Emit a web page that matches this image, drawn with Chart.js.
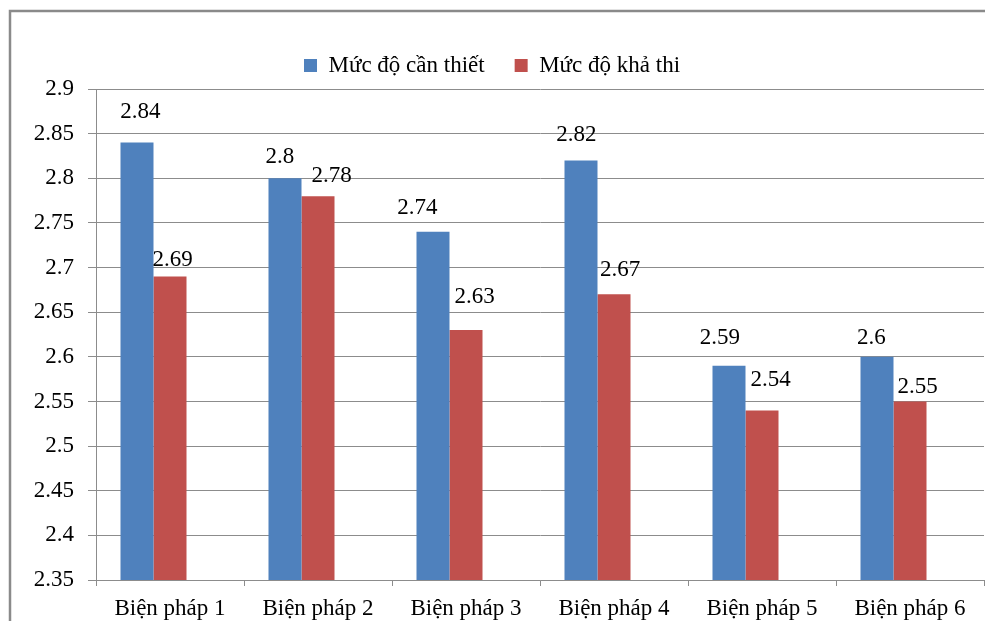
<!DOCTYPE html>
<html>
<head>
<meta charset="utf-8">
<title>Biện pháp</title>
<script src="https://cdn.jsdelivr.net/npm/chart.js@4"></script>
<style>
  html, body { margin: 0; padding: 0; background: #ffffff; }
  #wrap { position: relative; width: 985px; height: 621px; }
</style>
</head>
<body>
<div id="wrap"><canvas id="chart" width="985" height="621"></canvas></div>
<script>
// Categories and series values
const categories = ['Biện pháp 1', 'Biện pháp 2', 'Biện pháp 3', 'Biện pháp 4', 'Biện pháp 5', 'Biện pháp 6'];
const canThiet = [2.84, 2.8, 2.74, 2.82, 2.59, 2.6];
const khaThi = [2.69, 2.78, 2.63, 2.67, 2.54, 2.55];
// Third, empty series slot (keeps the pair of bars left of each category centre)
const spacer = [null, null, null, null, null, null];
const seriesNames = ['Mức độ cần thiết', 'Mức độ khả thi'];
const yMin = 2.35, yMax = 2.9, yStep = 0.05;

const FONT = '"Liberation Serif", "Times New Roman", Times, serif';
const FONT_SIZE = 23;
const GRID = '#8c8c8c';

// Outer frame of the chart
const framePlugin = {
  id: 'frame',
  beforeDraw(chart) {
    const ctx = chart.ctx;
    ctx.save();
    ctx.fillStyle = '#ffffff';
    ctx.fillRect(0, 0, chart.width, chart.height);
    ctx.strokeStyle = '#8a8a8a';
    ctx.lineWidth = 2.5;
    ctx.strokeRect(10, 11, chart.width + 20, chart.height + 20);
    ctx.restore();
  }
};

// Fixed legend band height so the plot starts at a set place
const legendBandPlugin = {
  id: 'legendBand',
  afterInit(chart) {
    const lg = chart.legend;
    if (!lg) return;
    const fit = lg.fit;
    lg.fit = function () {
      fit.call(this);
      this.height = chart.options.plugins.legendBand.height;
    };
  }
};

// Value labels above bars, each nudged by its own offset
const valueLabelPlugin = {
  id: 'valueLabels',
  afterDatasetsDraw(chart, args, opts) {
    const ctx = chart.ctx;
    ctx.save();
    ctx.font = opts.font;
    ctx.fillStyle = '#000000';
    ctx.textAlign = 'center';
    ctx.textBaseline = 'middle';
    opts.series.forEach((dsIndex, k) => {
      const meta = chart.getDatasetMeta(dsIndex);
      const values = chart.data.datasets[dsIndex].data;
      meta.data.forEach((bar, i) => {
        const v = values[i];
        if (v == null) return;
        const [dx, dy] = opts.shift[k][i];
        ctx.fillText(String(v), bar.x + dx, bar.y + dy);
      });
    });
    ctx.restore();
  }
};

new Chart(document.getElementById('chart'), {
  type: 'bar',
  data: {
    labels: categories,
    datasets: [
      { label: seriesNames[0], data: canThiet, backgroundColor: '#4f81bd' },
      { label: seriesNames[1], data: khaThi, backgroundColor: '#c0504d' },
      { label: '', data: spacer, backgroundColor: 'rgba(0,0,0,0)' }
    ]
  },
  options: {
    responsive: false,
    animation: false,
    events: [],
    layout: { padding: { top: 24, left: 0, right: 1, bottom: 0 } },
    datasets: { bar: { categoryPercentage: 0.669, barPercentage: 1.0 } },
    scales: {
      x: {
        offset: true,
        grid: { display: true, drawOnChartArea: false, drawTicks: true, tickLength: 6, color: GRID, offset: true },
        border: { display: true, color: GRID, width: 1 },
        ticks: { color: '#000000', font: { family: FONT, size: FONT_SIZE }, padding: 9, maxRotation: 0, autoSkip: false },
        afterFit(scale) { scale.height = 41; }
      },
      y: {
        min: yMin,
        max: yMax,
        grid: { color: GRID, lineWidth: 1, tickLength: 8, drawTicks: true },
        border: { display: true, color: GRID, width: 1 },
        ticks: {
          stepSize: yStep,
          color: '#000000',
          font: { family: FONT, size: FONT_SIZE },
          padding: 14,
          callback: (v) => String(Number(Number(v).toFixed(2)))
        },
        afterFit(scale) { scale.width = 96; }
      }
    },
    plugins: {
      legend: {
        position: 'top',
        align: 'center',
        labels: {
          color: '#000000',
          font: { family: FONT, size: FONT_SIZE },
          boxWidth: 13,
          boxHeight: 13,
          padding: 30,
          filter: (item) => item.datasetIndex < 2
        }
      },
      legendBand: { height: 65 },
      tooltip: { enabled: false },
      valueLabels: {
        font: FONT_SIZE + 'px ' + FONT,
        series: [0, 1],
        shift: [
          [[3.5, -30.5], [-5, -21], [-15.5, -24], [-4.5, -25], [-9, -28], [-5.5, -19]],
          [[2.5, -16.5], [13.5, -20], [8.5, -33], [6, -24], [8.5, -30], [7.5, -15]]
        ]
      }
    }
  },
  plugins: [framePlugin, legendBandPlugin, valueLabelPlugin]
});
</script>
</body>
</html>
